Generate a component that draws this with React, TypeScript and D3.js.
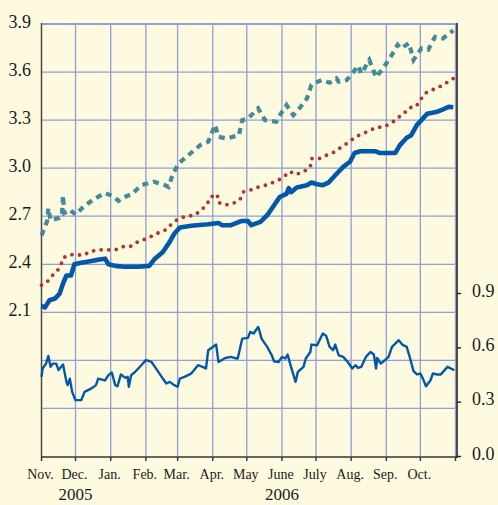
import React, { useEffect, useRef } from 'react';
import * as d3 from 'd3';

// day offsets from Nov 1, 2005 and values
const solidDays = [0, 3, 7, 12, 16, 19, 22, 26, 29, 35, 44, 51, 56, 59, 65, 73, 85, 95, 100, 107, 113, 117, 122, 132, 147, 156, 159, 167, 176, 182, 185, 193, 199, 204, 210, 216, 218, 220, 225, 234, 238, 243, 248, 253, 259, 266, 272, 276, 281, 294, 298, 312, 316, 322, 326, 331, 335, 340, 348, 354, 359, 363];
const solidVals = [2.14, 2.13, 2.175, 2.186, 2.217, 2.28, 2.33, 2.33, 2.40, 2.41, 2.42, 2.43, 2.435, 2.40, 2.39, 2.385, 2.385, 2.39, 2.435, 2.477, 2.54, 2.59, 2.63, 2.64, 2.65, 2.658, 2.644, 2.644, 2.67, 2.67, 2.644, 2.665, 2.706, 2.758, 2.82, 2.84, 2.875, 2.85, 2.88, 2.894, 2.91, 2.90, 2.894, 2.91, 2.956, 3.008, 3.04, 3.095, 3.106, 3.106, 3.095, 3.095, 3.144, 3.19, 3.206, 3.27, 3.30, 3.34, 3.35, 3.367, 3.383, 3.38];

const dashedDays = [0, 5, 6, 8, 16, 18, 19, 20, 25, 30, 37, 47, 56, 63, 68, 72, 80, 88, 99, 109, 112, 116, 121, 131, 140, 147, 153, 156, 163, 174, 177, 182, 191, 197, 207, 211, 216, 222, 226, 234, 238, 247, 254, 260, 262, 269, 275, 279, 282, 289, 295, 301, 308, 314, 317, 324, 328, 335, 341, 347, 354, 363];
const dashedVals = [2.58, 2.67, 2.75, 2.675, 2.69, 2.70, 2.83, 2.72, 2.74, 2.71, 2.76, 2.81, 2.845, 2.825, 2.796, 2.817, 2.84, 2.894, 2.915, 2.894, 2.883, 2.967, 3.03, 3.09, 3.144, 3.165, 3.27, 3.196, 3.185, 3.206, 3.30, 3.31, 3.373, 3.30, 3.29, 3.34, 3.394, 3.331, 3.36, 3.435, 3.52, 3.55, 3.533, 3.56, 3.54, 3.55, 3.60, 3.64, 3.59, 3.675, 3.567, 3.623, 3.696, 3.77, 3.748, 3.78, 3.675, 3.748, 3.74, 3.82, 3.81, 3.86];

const dottedDays = [0, 5, 9, 13, 17, 19, 25, 30, 37, 43, 50, 57, 65, 71, 78, 84, 91, 97, 104, 110, 115, 121, 128, 135, 141, 146, 149, 155, 156, 162, 169, 175, 178, 183, 190, 196, 204, 210, 216, 219, 224, 231, 237, 238, 245, 251, 258, 264, 270, 276, 281, 288, 295, 302, 309, 313, 319, 324, 330, 334, 338, 345, 351, 357, 363];
const dottedVals = [2.27, 2.29, 2.327, 2.35, 2.39, 2.44, 2.46, 2.46, 2.456, 2.48, 2.49, 2.49, 2.49, 2.51, 2.51, 2.537, 2.556, 2.575, 2.60, 2.617, 2.654, 2.686, 2.70, 2.706, 2.74, 2.775, 2.82, 2.837, 2.786, 2.77, 2.78, 2.804, 2.852, 2.86, 2.88, 2.89, 2.91, 2.93, 2.96, 2.98, 2.96, 2.977, 3.008, 3.06, 3.06, 3.08, 3.10, 3.13, 3.158, 3.19, 3.21, 3.23, 3.254, 3.258, 3.283, 3.31, 3.337, 3.377, 3.383, 3.425, 3.467, 3.49, 3.508, 3.533, 3.56];

const lowerDays = [0, 1, 4, 6, 8, 10, 13, 15, 19, 22, 23, 25, 27, 30, 35, 38, 44, 48, 50, 56, 59, 62, 65, 67, 70, 74, 76, 77, 79, 82, 88, 92, 97, 100, 104, 110, 113, 117, 120, 122, 126, 132, 138, 142, 145, 147, 154, 156, 162, 167, 170, 173, 177, 182, 184, 187, 191, 192, 194, 199, 203, 205, 209, 212, 215, 217, 220, 224, 226, 231, 233, 237, 238, 243, 248, 251, 254, 257, 259, 262, 266, 270, 274, 277, 279, 282, 286, 290, 293, 295, 296, 299, 301, 306, 309, 315, 318, 322, 325, 328, 331, 334, 336, 339, 343, 345, 349, 352, 354, 358, 364];
const lowerVals = [0.44, 0.486, 0.513, 0.555, 0.495, 0.513, 0.513, 0.477, 0.508, 0.412, 0.394, 0.43, 0.357, 0.311, 0.311, 0.357, 0.376, 0.394, 0.43, 0.42, 0.449, 0.464, 0.394, 0.388, 0.453, 0.434, 0.44, 0.385, 0.449, 0.464, 0.504, 0.532, 0.522, 0.495, 0.458, 0.403, 0.412, 0.394, 0.385, 0.43, 0.44, 0.458, 0.504, 0.495, 0.486, 0.587, 0.618, 0.522, 0.544, 0.55, 0.544, 0.541, 0.651, 0.655, 0.688, 0.679, 0.715, 0.697, 0.651, 0.605, 0.559, 0.526, 0.522, 0.55, 0.541, 0.563, 0.495, 0.412, 0.467, 0.495, 0.541, 0.577, 0.618, 0.614, 0.679, 0.666, 0.605, 0.587, 0.618, 0.559, 0.55, 0.522, 0.486, 0.504, 0.489, 0.495, 0.55, 0.577, 0.563, 0.486, 0.544, 0.513, 0.522, 0.55, 0.605, 0.642, 0.618, 0.605, 0.541, 0.471, 0.453, 0.458, 0.434, 0.388, 0.421, 0.458, 0.453, 0.453, 0.467, 0.495, 0.476];

const monthLabels = ['Nov.', 'Dec.', 'Jan.', 'Feb.', 'Mar.', 'Apr.', 'May', 'June', 'July', 'Aug.', 'Sep.', 'Oct.'];
const leftTicks = [2.1, 2.4, 2.7, 3.0, 3.3, 3.6, 3.9];
const rightTicks = [0.0, 0.3, 0.6, 0.9];
const yearLabels = [{ label: '2005', month: 1 }, { label: '2006', month: 7 }];

const W = 498;
const H = 505;
const START = Date.UTC(2005, 10, 1);
const FONT = "'Liberation Serif', Tinos, 'DejaVu Serif', serif";

function App() {
  const ref = useRef<SVGSVGElement>(null);

  useEffect(() => {
    const svg = d3.select(ref.current);
    svg.selectAll('*').remove();

    const x = d3.scaleUtc()
      .domain([new Date(START), new Date(Date.UTC(2006, 10, 1))])
      .range([41.5, 455.5]);
    const yL = d3.scaleLinear().domain([1.2, 3.9]).range([456.5, 24]);
    const yR = d3.scaleLinear().domain([0, 0.9]).range([456.5, 293.5]);
    const day = (d: number) => new Date(START + d * 864e5);

    svg.append('rect').attr('width', W).attr('height', H).attr('fill', '#fefadf');

    const months = x.ticks(d3.utcMonth.every(1));
    const grid = svg.append('g').attr('stroke', '#909dd8').attr('stroke-width', 1.3);
    grid.selectAll('line.v')
      .data(months.slice(1))
      .join('line')
      .attr('x1', d => x(d)).attr('x2', d => x(d))
      .attr('y1', 24).attr('y2', 456.5);
    grid.selectAll('line.h')
      .data(d3.range(1.5, 3.95, 0.3))
      .join('line')
      .attr('x1', 41.5).attr('x2', 456)
      .attr('y1', d => yL(d)).attr('y2', d => yL(d))
      .attr('stroke-width', d => (d > 3.85 ? 2.2 : 1.3));

    // axes lines
    svg.append('line').attr('x1', 41.5).attr('x2', 41.5).attr('y1', 23).attr('y2', 457)
      .attr('stroke', '#4a4a4a').attr('stroke-width', 1.5);
    svg.append('line').attr('x1', 457).attr('x2', 457).attr('y1', 23).attr('y2', 458)
      .attr('stroke', '#222').attr('stroke-width', 1.6);
    svg.append('line').attr('x1', 41).attr('x2', 457.5).attr('y1', 457).attr('y2', 457)
      .attr('stroke', '#333').attr('stroke-width', 1.5);

    const text = (sel: any, size: number) =>
      sel.style('font-family', FONT).style('font-size', `${size}px`).attr('fill', '#1a1a1a');

    // bottom ticks + labels
    svg.append('g').selectAll('line')
      .data(months)
      .join('line')
      .attr('x1', d => x(d)).attr('x2', d => x(d))
      .attr('y1', 457).attr('y2', 461)
      .attr('stroke', '#333').attr('stroke-width', 1.4);
    text(svg.append('g').selectAll('text')
      .data(months.slice(0, 12))
      .join('text')
      .attr('x', d => x(d) - 1)
      .attr('y', 479)
      .attr('text-anchor', 'middle'), 14)
      .text((_, i) => monthLabels[i]);
    text(svg.append('g').selectAll('text')
      .data(yearLabels)
      .join('text')
      .attr('x', d => x(months[d.month]))
      .attr('y', 500)
      .attr('text-anchor', 'middle'), 17)
      .text(d => d.label);

    // left labels
    text(svg.append('g').selectAll('text')
      .data(leftTicks)
      .join('text')
      .attr('x', 31).attr('y', d => yL(d) + 4)
      .attr('text-anchor', 'end'), 18)
      .text(d => d.toFixed(1));

    // right ticks + labels
    svg.append('g').selectAll('line')
      .data(rightTicks)
      .join('line')
      .attr('x1', 457).attr('x2', 461)
      .attr('y1', d => yR(d)).attr('y2', d => yR(d))
      .attr('stroke', '#222').attr('stroke-width', 1.4);
    text(svg.append('g').selectAll('text')
      .data(rightTicks)
      .join('text')
      .attr('x', 472).attr('y', d => yR(d) + 3), 18)
      .text(d => d.toFixed(1));

    const lineL = d3.line<[number, number]>().x(d => x(day(d[0]))).y(d => yL(d[1]));
    const lineR = d3.line<[number, number]>().x(d => x(day(d[0]))).y(d => yR(d[1]));
    const zip = (a: number[], b: number[]) => a.map((d, i) => [d, b[i]] as [number, number]);

    svg.append('path')
      .attr('d', lineL(zip(dashedDays, dashedVals)))
      .attr('fill', 'none').attr('stroke', '#438a9a').attr('stroke-width', 4.2)
      .attr('stroke-dasharray', '6,5');
    svg.append('path')
      .attr('d', lineL(zip(dottedDays, dottedVals)))
      .attr('fill', 'none').attr('stroke', '#b0332f').attr('stroke-width', 3.8)
      .attr('stroke-linecap', 'round').attr('stroke-dasharray', '0,7.6');
    svg.append('path')
      .attr('d', lineL(zip(solidDays, solidVals)))
      .attr('fill', 'none').attr('stroke', '#0058a8').attr('stroke-width', 4.6)
      .attr('stroke-linejoin', 'round');
    svg.append('path')
      .attr('d', lineR(zip(lowerDays, lowerVals)))
      .attr('fill', 'none').attr('stroke', '#0058a8').attr('stroke-width', 2.4)
      .attr('stroke-linejoin', 'round');
  }, []);

  return (
    <svg ref={ref} width={W} height={H}
      style={{ position: 'fixed', left: 0, top: 0, display: 'block' }} />
  );
}

export default App;
